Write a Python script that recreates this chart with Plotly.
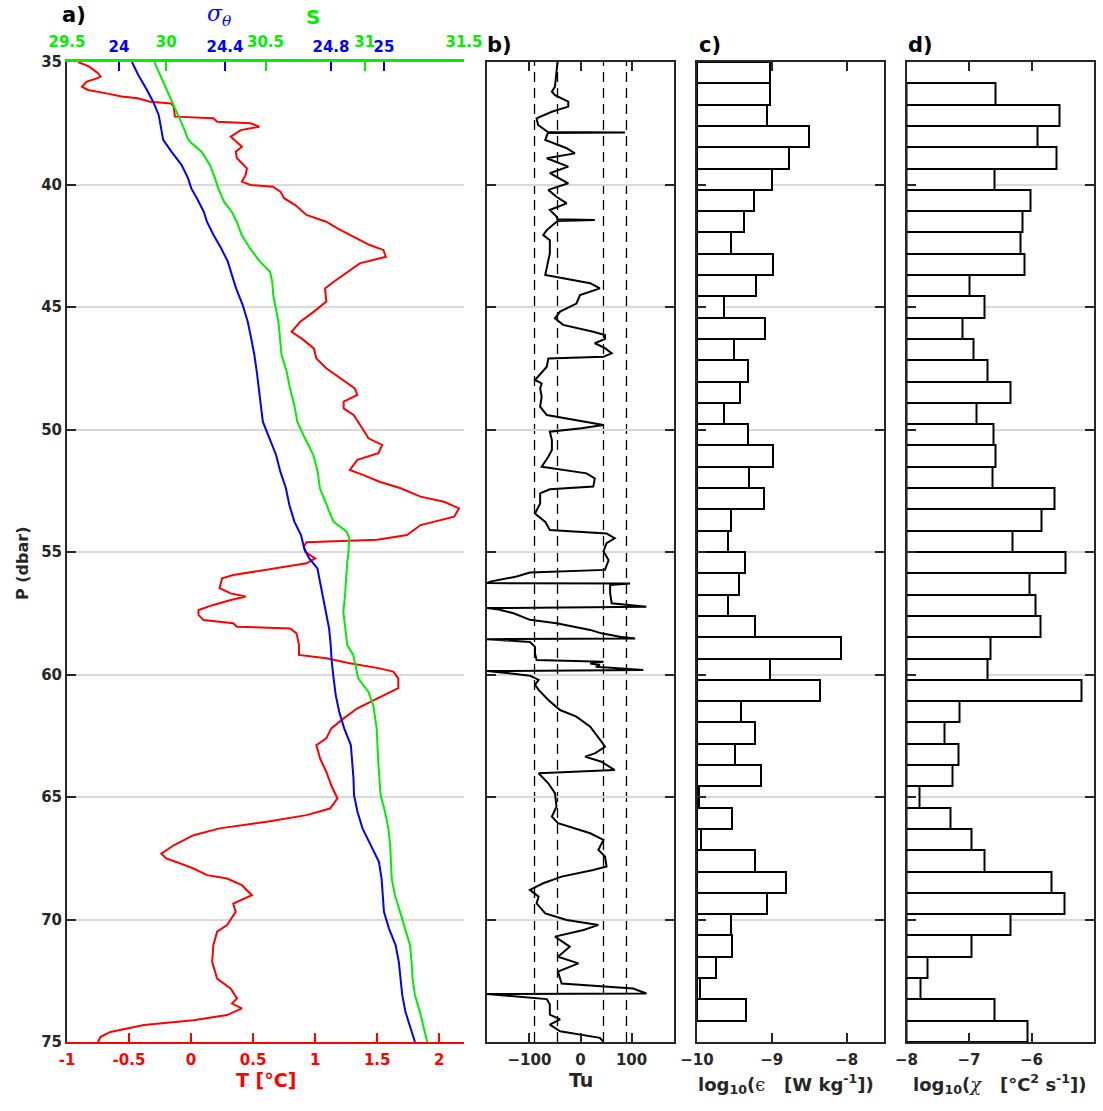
import plotly.graph_objects as go

# ---------------- Panel a: temperature, salinity, potential density ----------------
P_T = [35.00, 35.19, 35.46, 35.60, 35.67, 35.80, 36.01, 36.14, 36.28, 36.41, 36.48, 36.62, 36.69, 36.82,
       37.23, 37.30, 37.44, 37.50, 37.64, 37.78, 38.05, 38.25, 38.46, 38.66, 38.93, 39.34, 39.61, 39.88,
       40.02, 40.09, 40.29, 40.56, 40.84, 41.24, 41.52, 41.79, 42.13, 42.47, 42.67, 42.95, 43.22, 43.56,
       43.97, 44.24, 44.78, 45.19, 45.60, 46.01, 46.28, 46.69, 47.10, 47.50, 47.91, 48.32, 48.59, 48.86,
       49.14, 49.41, 49.95, 50.36, 50.63, 50.97, 51.24, 51.65, 51.86, 52.13, 52.40, 52.74, 52.95, 53.22,
       53.56, 53.90, 54.31, 54.50, 54.60, 54.78, 54.99, 55.26, 55.46, 55.73, 55.94, 56.07, 56.48, 56.69,
       56.82, 56.96, 57.16, 57.37, 57.57, 57.78, 57.91, 58.05, 58.12, 58.32, 58.80, 59.20, 59.34, 59.54,
       59.75, 59.88, 60.16, 60.56, 60.97, 61.38, 61.79, 62.20, 62.61, 62.88, 63.43, 63.97, 64.52, 65.06,
       65.47, 65.74, 66.01, 66.28, 66.56, 66.97, 67.31, 67.51, 67.65, 67.92, 68.19, 68.33, 68.60, 69.01,
       69.35, 69.69, 70.23, 70.50, 71.05, 71.73, 72.41, 72.82, 73.22, 73.43, 73.63, 73.90, 74.11, 74.31,
       74.59, 74.79, 75.00]
T = [-0.91, -0.82, -0.75, -0.73, -0.76, -0.84, -0.88, -0.83, -0.68, -0.56, -0.43, -0.33, -0.16, -0.14,
     -0.13, 0.18, 0.21, 0.48, 0.55, 0.40, 0.32, 0.36, 0.41, 0.36, 0.37, 0.45, 0.44, 0.41,
     0.48, 0.66, 0.72, 0.75, 0.84, 0.93, 1.09, 1.18, 1.31, 1.44, 1.55, 1.57, 1.36, 1.26,
     1.15, 1.08, 1.09, 0.99, 0.88, 0.81, 0.89, 0.99, 1.01, 1.09, 1.20, 1.32, 1.34, 1.23,
     1.23, 1.31, 1.38, 1.43, 1.54, 1.51, 1.34, 1.28, 1.39, 1.52, 1.69, 1.85, 2.04, 2.16,
     2.12, 1.85, 1.74, 1.50, 0.93, 0.91, 0.92, 1.00, 0.93, 0.61, 0.34, 0.25, 0.23, 0.32,
     0.44, 0.32, 0.18, 0.06, 0.06, 0.10, 0.34, 0.37, 0.80, 0.85, 0.87, 0.87, 1.09, 1.28,
     1.52, 1.63, 1.67, 1.67, 1.50, 1.34, 1.23, 1.13, 1.09, 1.01, 1.04, 1.09, 1.13, 1.18,
     1.12, 0.93, 0.61, 0.23, 0.02, -0.14, -0.24, -0.20, -0.12, 0.02, 0.13, 0.29, 0.41, 0.49,
     0.34, 0.36, 0.29, 0.21, 0.18, 0.17, 0.21, 0.32, 0.37, 0.33, 0.41, 0.29, 0.02, -0.38,
     -0.65, -0.73, -0.75]

P_S = [35.00, 35.53, 36.07, 36.62, 37.16, 37.71, 38.12, 38.32, 38.66, 39.20, 39.75, 40.16, 40.70, 41.11,
       41.52, 42.06, 42.61, 43.15, 43.56, 43.97, 44.51, 45.05, 45.60, 46.28, 46.96, 47.64, 48.32, 49.00,
       49.68, 50.36, 51.04, 51.72, 52.40, 53.08, 53.76, 54.17, 54.44, 55.12, 55.39, 56.07, 56.75, 57.43,
       58.12, 58.80, 59.20, 59.75, 60.16, 60.70, 61.25, 62.20, 63.56, 64.92, 65.60, 66.28, 66.97, 68.33,
       69.01, 69.69, 70.37, 71.05, 71.73, 72.41, 73.09, 73.77, 74.45, 75.00]
S = [29.940, 29.969, 30.002, 30.032, 30.061, 30.089, 30.108, 30.128, 30.178, 30.220, 30.246, 30.262, 30.291, 30.330,
     30.355, 30.380, 30.422, 30.472, 30.523, 30.534, 30.539, 30.553, 30.565, 30.573, 30.581, 30.607, 30.623, 30.645,
     30.660, 30.699, 30.741, 30.763, 30.774, 30.808, 30.842, 30.909, 30.922, 30.917, 30.912, 30.906, 30.901, 30.892,
     30.901, 30.912, 30.942, 30.956, 30.967, 31.018, 31.043, 31.060, 31.068, 31.080, 31.102, 31.119, 31.128, 31.136,
     31.152, 31.178, 31.203, 31.228, 31.236, 31.241, 31.253, 31.278, 31.298, 31.315]

P_sig = [35.00, 35.53, 36.07, 36.62, 37.16, 37.71, 38.18, 38.66, 39.20, 39.75, 40.16, 40.56, 41.11, 41.52,
         42.06, 42.61, 43.15, 43.69, 44.24, 44.92, 45.60, 46.28, 46.96, 47.64, 48.32, 49.00, 49.68, 50.36,
         51.04, 51.72, 52.40, 53.08, 53.76, 54.31, 54.85, 55.26, 55.67, 56.07, 56.75, 57.43, 58.12, 58.80,
         59.48, 60.16, 60.84, 61.52, 62.20, 62.88, 63.56, 64.24, 64.92, 65.60, 66.28, 66.97, 67.65, 68.33,
         69.01, 69.69, 70.37, 71.05, 71.73, 72.41, 73.09, 73.77, 74.45, 75.00]
sigma_theta = [24.049, 24.073, 24.102, 24.129, 24.150, 24.158, 24.167, 24.198, 24.236, 24.261, 24.273, 24.294, 24.320, 24.332,
               24.357, 24.386, 24.411, 24.426, 24.442, 24.467, 24.486, 24.499, 24.511, 24.520, 24.528, 24.534, 24.543, 24.568,
               24.593, 24.609, 24.630, 24.643, 24.662, 24.687, 24.699, 24.718, 24.749, 24.756, 24.768, 24.781, 24.793, 24.799,
               24.803, 24.810, 24.818, 24.831, 24.850, 24.875, 24.881, 24.885, 24.887, 24.900, 24.919, 24.950, 24.981, 24.991,
               24.996, 25.000, 25.019, 25.044, 25.056, 25.063, 25.069, 25.081, 25.100, 25.117]

# ---------------- Panel b: Turner angle ----------------
P_Tu = [35.00, 35.46, 36.01, 36.21, 36.35, 36.62, 36.82, 37.03, 37.30, 37.57, 37.78, 37.86, 37.88, 37.90,
        38.18, 38.52, 38.73, 38.93, 39.27, 39.54, 39.95, 40.22, 40.50, 40.77, 41.04, 41.31, 41.42, 41.45,
        41.49, 41.86, 42.06, 42.27, 42.81, 43.35, 43.69, 43.83, 44.03, 44.24, 44.51, 44.86, 45.19, 45.46,
        45.73, 46.01, 46.14, 46.30, 46.48, 46.68, 46.89, 47.03, 47.10, 47.44, 47.98, 48.12, 48.32, 48.66,
        49.07, 49.41, 49.61, 49.82, 49.95, 50.09, 50.43, 50.84, 51.11, 51.52, 51.79, 52.00, 52.33, 52.44,
        52.61, 53.02, 53.43, 53.77, 54.10, 54.24, 54.44, 54.64, 54.98, 55.33, 55.73, 55.84, 56.00, 56.21,
        56.27, 56.29, 56.35, 56.68, 57.09, 57.23, 57.29, 57.35, 57.50, 57.77, 57.91, 58.18, 58.32, 58.46,
        58.53, 58.56, 58.67, 58.87, 59.14, 59.41, 59.48, 59.55, 59.61, 59.68, 59.82, 59.86, 59.95, 60.05,
        60.22, 60.42, 60.63, 61.04, 61.45, 61.72, 62.13, 62.54, 62.74, 62.95, 63.22, 63.35, 63.56, 63.90,
        64.03, 64.44, 64.84, 65.39, 65.80, 66.07, 66.48, 66.75, 67.16, 67.43, 67.84, 67.98, 68.25, 68.52,
        68.79, 69.07, 69.34, 69.75, 70.02, 70.22, 70.43, 70.70, 71.11, 71.52, 71.79, 72.13, 72.61, 72.82,
        73.02, 73.04, 73.25, 73.47, 73.88, 74.08, 74.29, 74.56, 74.83, 75.00]
Tu = [-45, -47, -50, -56, -50, -24, -24, -56, -86, -83, -69, -64, 87, -64,
      -69, -27, -11, -66, -24, -60, -24, -63, -47, -27, -60, -47, -45, 28,
      -45, -66, -73, -60, -60, -66, -69, -34, 19, 38, -1, -8, -40, -50,
      -34, 25, 48, 48, 28, 48, 61, 45, -63, -66, -89, -76, -79, -76,
      -79, -66, -8, 45, 2, -60, -56, -56, -63, -76, 12, 28, 25, -60,
      -79, -79, -89, -69, -60, 51, 67, 51, 45, 55, 48, -99, -125, -177,
      -183, 97, 58, 58, 61, 129, -183, -160, -131, -99, -47, 19, 41, 77,
      107, -183, -99, -89, -89, -86, 45, 19, 38, 30, 123, -183, -140, -99,
      -82, -89, -82, -63, -40, -8, 19, 35, 41, 48, 28, 9, 41, 67,
      -82, -63, -50, -47, -56, -44, 19, 45, 35, 48, 51, 25, -37, -73,
      -99, -82, -86, -69, -27, 35, 6, -50, -21, -44, -4, -44, -37, 103,
      129, -183, -66, -60, -60, -40, -60, -40, 38, 45]
Tu_regime_bounds = [-90, -45, 45, 90]

# ---------------- Panels c, d: dissipation rates in pressure bins ----------------
P_bins = [35.435, 36.304, 37.174, 38.043, 38.913, 39.783, 40.652, 41.522, 42.391, 43.261,
          44.130, 45.000, 45.870, 46.739, 47.609, 48.478, 49.348, 50.217, 51.087, 51.957,
          52.826, 53.696, 54.565, 55.435, 56.304, 57.174, 58.043, 58.913, 59.783, 60.652,
          61.522, 62.391, 63.261, 64.130, 65.000, 65.870, 66.739, 67.609, 68.478, 69.348,
          70.217, 71.087, 71.957, 72.826, 73.696, 74.565]
bin_width = 0.8696
log_eps = [-9.02, -9.03, -9.06, -8.50, -8.77, -9.00, -9.24, -9.37, -9.55, -8.99,
           -9.21, -9.64, -9.09, -9.50, -9.32, -9.42, -9.64, -9.32, -8.99, -9.31,
           -9.11, -9.55, -9.59, -9.36, -9.44, -9.58, -9.22, -8.08, -9.03, -8.35,
           -9.41, -9.23, -9.49, -9.14, -9.97, -9.53, -9.94, -9.22, -8.81, -9.06,
           -9.55, -9.53, -9.74, -9.96, -9.34, None]
log_chi = [None, -6.57, -5.55, -5.91, -5.60, -6.60, -6.02, -6.14, -6.18, -6.12,
           -6.99, -6.75, -7.11, -6.93, -6.71, -6.34, -6.88, -6.61, -6.57, -6.62,
           -5.63, -5.84, -6.30, -5.45, -6.04, -5.94, -5.86, -6.65, -6.71, -5.20,
           -7.16, -7.40, -7.17, -7.27, -7.80, -7.30, -6.96, -6.75, -5.68, -5.47,
           -6.33, -6.96, -7.66, -7.77, -6.60, -6.07]
eps_base = -10
chi_base = -8

P_ticks = [35, 40, 45, 50, 55, 60, 65, 70, 75]
T_ticks = [-1, -0.5, 0, 0.5, 1, 1.5, 2]
S_ticks = [29.5, 30, 30.5, 31, 31.5]
sig_ticks = [24, 24.4, 24.8, 25]
Tu_ticks = [-100, 0, 100]
eps_ticks = [-10, -9, -8]
chi_ticks = [-8, -7, -6, -5]

# ---------------- styling ----------------
W, H = 1103, 1111
FONT = "DejaVu Sans"
DK = "#262626"
RED = "#ff0000"
GRN = "#00ee00"
BLU = "#0000ff"
GRID = "#d9d9d9"

def px_x(a, b):
    return [a / W, b / W]

dom_y = [1 - 1042 / H, 1 - 62 / H]
dom_a = px_x(67, 464)
dom_b = px_x(487, 674)
dom_c = px_x(697, 884)
dom_d = px_x(906.5, 1094)


def tf(color=DK, size=15):
    return dict(family=FONT, size=size, color=color, weight="bold")


def fmt(v):
    return ("%g" % v)


fig = go.Figure()

fig.add_trace(go.Scatter(x=T, y=P_T, mode="lines", line=dict(color=RED, width=2),
                         xaxis="x", yaxis="y", showlegend=False))
fig.add_trace(go.Scatter(x=S, y=P_S, mode="lines", line=dict(color=GRN, width=2),
                         xaxis="x2", yaxis="y", showlegend=False))
fig.add_trace(go.Scatter(x=sigma_theta, y=P_sig, mode="lines", line=dict(color=BLU, width=2),
                         xaxis="x3", yaxis="y", showlegend=False))
fig.add_trace(go.Scatter(x=Tu, y=P_Tu, mode="lines", line=dict(color="black", width=2),
                         xaxis="x4", yaxis="y2", showlegend=False))

eps_pairs = [(p, v) for p, v in zip(P_bins, log_eps) if v is not None]
fig.add_trace(go.Bar(y=[p for p, v in eps_pairs], x=[v - eps_base for p, v in eps_pairs],
                     base=eps_base, orientation="h", width=bin_width,
                     marker=dict(color="white", line=dict(color="black", width=2)),
                     xaxis="x5", yaxis="y3", showlegend=False))
chi_pairs = [(p, v) for p, v in zip(P_bins, log_chi) if v is not None]
fig.add_trace(go.Bar(y=[p for p, v in chi_pairs], x=[v - chi_base for p, v in chi_pairs],
                     base=chi_base, orientation="h", width=bin_width,
                     marker=dict(color="white", line=dict(color="black", width=2)),
                     xaxis="x6", yaxis="y4", showlegend=False))

common_y = dict(range=[75, 35], tickvals=P_ticks, ticks="inside", ticklen=9, tickwidth=2,
                tickcolor=DK, showline=True, linecolor=DK, linewidth=2, showgrid=True,
                gridcolor=GRID, gridwidth=2, zeroline=False, domain=dom_y)

box_x = dict(ticks="inside", ticklen=9, tickwidth=2, tickcolor=DK, showline=True, linecolor=DK,
             linewidth=2, mirror="ticks", showgrid=False, zeroline=False, tickfont=tf(DK, 15),
             ticklabelstandoff=3)

fig.update_layout(
    width=W, height=H, margin=dict(l=0, r=0, t=0, b=0),
    paper_bgcolor="white", plot_bgcolor="white", template="none", showlegend=False,
    bargap=0,
    xaxis=dict(domain=dom_a, anchor="y", range=[-1, 2.2], tickvals=T_ticks,
               ticktext=[fmt(v) for v in T_ticks], ticks="inside", ticklen=9, tickwidth=2,
               tickcolor=RED, showline=True, linecolor=RED, linewidth=2, showgrid=False,
               zeroline=False, tickfont=tf(RED, 15), ticklabelstandoff=3),
    xaxis2=dict(overlaying="x", anchor="y", side="top", range=[29.5, 31.5], tickvals=S_ticks,
                ticktext=[fmt(v) for v in S_ticks], ticks="inside", ticklen=9, tickwidth=2,
                tickcolor=GRN, showline=True, linecolor=GRN, linewidth=3, showgrid=False,
                zeroline=False, tickfont=tf(GRN, 15), ticklabelstandoff=6),
    xaxis3=dict(overlaying="x", anchor="y", side="top", range=[23.804, 25.302], tickvals=sig_ticks,
                ticktext=[fmt(v) for v in sig_ticks], ticks="inside", ticklen=9, tickwidth=2,
                tickcolor=BLU, showline=False, showgrid=False, zeroline=False,
                tickfont=tf(BLU, 15), ticklabelstandoff=6),
    yaxis=dict(anchor="x", tickfont=tf(DK, 15), **common_y),
    xaxis4=dict(domain=dom_b, anchor="y2", range=[-183, 183], tickvals=Tu_ticks, **box_x),
    yaxis2=dict(anchor="x4", showticklabels=False, mirror="ticks", **common_y),
    xaxis5=dict(domain=dom_c, anchor="y3", range=[-10, -7.5], tickvals=eps_ticks, **box_x),
    yaxis3=dict(anchor="x5", showticklabels=False, mirror="ticks", **common_y),
    xaxis6=dict(domain=dom_d, anchor="y4", range=[-8, -5], tickvals=chi_ticks, **box_x),
    yaxis4=dict(anchor="x6", showticklabels=False, mirror="ticks", **common_y),
)

# Turner-angle regime boundaries
for v in Tu_regime_bounds:
    fig.add_shape(type="line", xref="x4", yref="y2 domain", x0=v, x1=v, y0=0, y1=1,
                  line=dict(color="black", width=1.3, dash="10px,6px"), layer="below")


def ann(text, xp, yp, color=DK, size=18, family=FONT, weight="bold", **kw):
    fig.add_annotation(text=text, x=xp / W, y=1 - yp / H, xref="paper", yref="paper",
                       showarrow=False, font=dict(family=family, size=size, color=color, weight=weight),
                       xanchor="center", yanchor="middle", **kw)


ann("a)", 74, 15, color="black", size=21)
ann("b)", 499, 45, color="black", size=21)
ann("c)", 710, 45, color="black", size=21)
ann("d)", 920, 45, color="black", size=21)
ann("<i>σ<sub>θ</sub></i>", 219, 15, color=BLU, size=22, family="DejaVu Serif", weight="normal")
ann("S", 313, 17, color=GRN, size=20)
ann("P (dbar)", 22, 563, color=DK, size=16, textangle=-90)
ann("T [°C]", 266, 1080, color=RED, size=19)
ann("Tu", 581, 1080, color=DK, size=19)
ann("log<sub>10</sub>(<span style='font-family:DejaVu Serif;font-weight:normal'>ϵ</span>   [W kg<sup>-1</sup>])",
    786, 1084, color=DK, size=18)
ann("log<sub>10</sub>(<span style='font-family:DejaVu Serif;font-weight:normal'><i>χ</i></span>   [°C<sup>2</sup> s<sup>-1</sup>])",
    1000, 1084, color=DK, size=18)

fig.write_html("out.html")
